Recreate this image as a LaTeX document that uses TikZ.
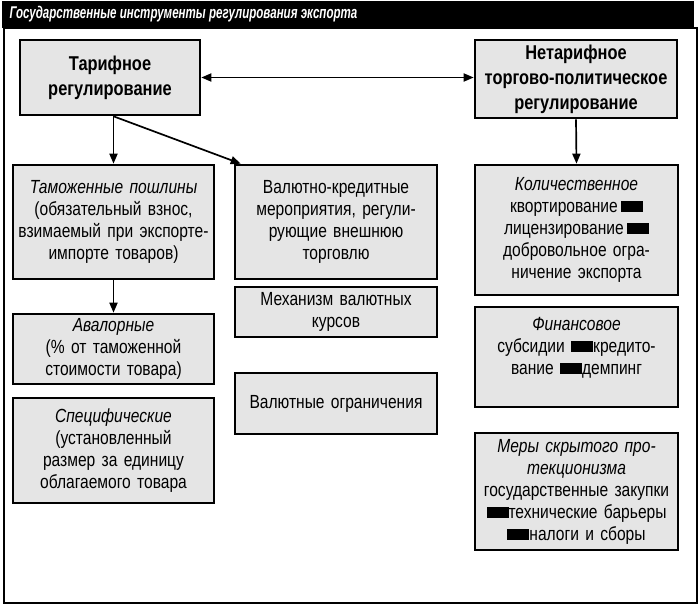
\documentclass[tikz,border=0pt]{standalone}
\usepackage{fontspec}
\setmainfont[FakeStretch=0.82]{Liberation Sans}
\newfontfamily\titlefont[FakeStretch=0.68]{Liberation Sans}
\usetikzlibrary{arrows.meta}
\definecolor{boxgray}{gray}{0.9}
\newcommand{\blk}{\rule[0.5pt]{22pt}{11pt}}

\begin{document}
\begin{tikzpicture}
[
  x=1pt, y=-1pt,
  box/.style={draw, fill=boxgray, line width=2.6pt, inner sep=0pt, align=center,
    font=\fontsize{19}{22}\selectfont},
  head/.style={box, font=\bfseries\fontsize{20}{25}\selectfont},
  arr/.style={line width=1.7pt, -{Triangle[length=10pt,width=8pt]}},
  darr/.style={line width=1.7pt, {Triangle[length=10pt,width=8pt]}-{Triangle[length=10pt,width=8pt]}}
]
  \useasboundingbox (0,0) rectangle (700,607);

  \fill (2,1) rectangle (694,28);
  \node[anchor=west, text=white, font=\titlefont\bfseries\itshape\fontsize{17}{18}\selectfont]
    (title) at (6,14) {Государственные инструменты регулирования экспорта};
  \draw[line width=2.6pt] (4,28) rectangle (697,603);

  \node[head, minimum width=180pt, minimum height=75pt, text width=174pt] (tarif) at (110,77.5)
    {Тарифное\\регулирование};
  \node[head, minimum width=202pt, minimum height=78pt, text width=198pt] (netarif) at (576,79)
    {Нетарифное\\торгово-политическое\\регулирование};

  \node[box, minimum width=201pt, minimum height=114pt, text width=197pt] (tamozh) at (113.5,222)
    {\textit{Таможенные пошлины}\\(обязательный взнос,\\взимаемый при экспорте-\\импорте товаров)};
  \node[box, minimum width=201pt, minimum height=70pt, text width=197pt] (aval) at (113.5,349)
    {\textit{Авалорные}\\(\% от таможенной\\стоимости товара)};
  \node[box, minimum width=201pt, minimum height=105pt, text width=197pt] (spec) at (113.5,450.5)
    {\textit{Специфические}\\(установленный\\размер за единицу\\облагаемого товара};

  \node[box, minimum width=202pt, minimum height=114pt, text width=198pt] (valkred) at (336,222)
    {Валютно-кредитные\\мероприятия, регули-\\рующие внешнюю\\торговлю};
  \node[box, minimum width=202pt, minimum height=50pt, text width=198pt] (mekh) at (336,312)
    {Механизм валютных\\курсов};
  \node[box, minimum width=202pt, minimum height=61pt, text width=198pt] (valogr) at (336,403.5)
    {Валютные ограничения};

  \node[box, minimum width=203pt, minimum height=130pt, text width=199pt] (kolich) at (576.5,230)
    {\textit{Количественное}\\квортирование\,\blk\\лицензирование\,\blk\\добровольное огра-\\ничение экспорта};
  \node[box, minimum width=203pt, minimum height=100pt, text width=199pt] (fin) at (576.5,357)
    {\textit{Финансовое}\\субсидии \blk кредито-\\вание \blk демпинг\\ \mbox{}};
  \node[box, minimum width=203pt, minimum height=117pt, text width=199pt] (mery) at (576.5,491.5)
    {\textit{Меры скрытого про-}\\\textit{текционизма}\\государственные закупки\\\blk технические барьеры\\\blk налоги и сборы};

  \coordinate (fork) at (tamozh.north |- tarif.south);
  \draw[darr] (tarif.east) -- (tarif.east -| netarif.west);
  \draw[arr] (fork) -- (tamozh.north);
  \draw[arr] (fork) -- ([xshift=7pt]valkred.north west);
  \draw[arr] (tamozh.south) -- (aval.north);
  \draw[arr] (netarif.south) -- (kolich.north);
\end{tikzpicture}
\end{document}
